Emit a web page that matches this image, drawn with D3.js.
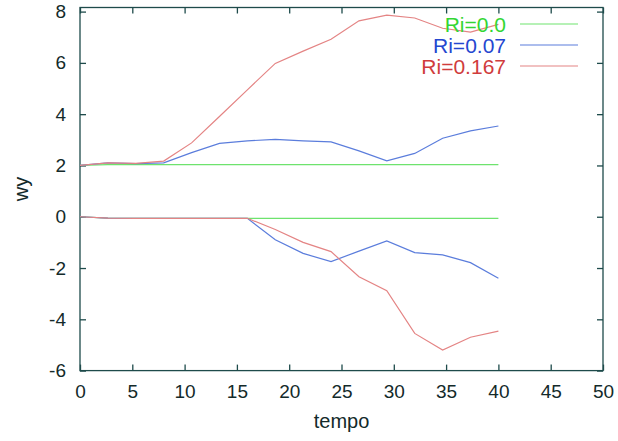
<!DOCTYPE html>
<html lang="en">
  <head>
    <meta charset="UTF-8" />
    <title>wy vs tempo</title>
    <script src="https://d3js.org/d3.v7.min.js"></script>
    <style>
      body {
        margin: 0;
        background: #fff;
        font-family: "Liberation Sans", Arial, sans-serif;
      }
      svg {
        display: block;
      }
    </style>
  </head>
  <body>
    <svg id="chart" width="618" height="441"></svg>
    <script>
      // time steps (tempo)
      const tempo = [0, 2.67, 5.33, 8, 10.67, 13.33, 16, 18.67, 21.33, 24, 26.67, 29.33, 32, 34.67, 37.33, 40];

      // upper branch
      const ri00Up = [2.0, 2.03, 2.03, 2.03, 2.03, 2.03, 2.03, 2.03, 2.03, 2.03, 2.03, 2.03, 2.03, 2.03, 2.03, 2.03];
      const ri007Up = [2.0, 2.1, 2.07, 2.1, 2.5, 2.86, 2.96, 3.02, 2.96, 2.92, 2.57, 2.18, 2.47, 3.06, 3.35, 3.54];
      const ri0167Up = [2.0, 2.1, 2.08, 2.17, 2.88, 3.91, 4.95, 5.98, 6.46, 6.92, 7.64, 7.86, 7.75, 7.35, 7.2, 7.5];

      // lower branch
      const ri00Lo = [0, -0.05, -0.06, -0.06, -0.06, -0.06, -0.06, -0.06, -0.06, -0.06, -0.06, -0.06, -0.06, -0.06, -0.06, -0.06];
      const ri007Lo = [0, -0.05, -0.06, -0.06, -0.06, -0.06, -0.06, -0.9, -1.43, -1.75, -1.34, -0.94, -1.4, -1.49, -1.79, -2.4];
      const ri0167Lo = [0, -0.05, -0.06, -0.06, -0.06, -0.06, -0.06, -0.5, -1.0, -1.36, -2.34, -2.88, -4.55, -5.2, -4.7, -4.46];

      const xTicks = [0, 5, 10, 15, 20, 25, 30, 35, 40, 45, 50];
      const yTicks = [-6, -4, -2, 0, 2, 4, 6, 8];

      const series = [
        { name: "Ri=0.0", color: "#6ee36e", text: "#33d633", up: ri00Up, lo: ri00Lo },
        { name: "Ri=0.07", color: "#5b7ddc", text: "#2547d0", up: ri007Up, lo: ri007Lo },
        { name: "Ri=0.167", color: "#e48484", text: "#d03c3c", up: ri0167Up, lo: ri0167Lo },
      ];

      const svg = d3.select("#chart");
      const plotL = 80, plotR = 603, plotT = 7.5, plotB = 370.6;

      const x = d3.scaleLinear().domain([0, 50]).range([plotL, plotR]);
      const y = d3.scaleLinear().domain([-6, 8.16]).range([plotB, plotT]);

      const axisColor = "#1e4b4b";
      const textColor = "#132a2a";
      const tickLen = 6;

      // frame
      svg.append("rect")
        .attr("x", plotL).attr("y", plotT)
        .attr("width", plotR - plotL).attr("height", plotB - plotT)
        .attr("fill", "none").attr("stroke", axisColor).attr("stroke-width", 1.3);

      // ticks, inward and mirrored; plain hyphen for negatives like gnuplot
      const fmt = (d) => String(d);
      const bottomAxis = d3.axisBottom(x).tickValues(xTicks).tickFormat(fmt).tickSize(-tickLen).tickPadding(14).tickSizeOuter(0);
      const topAxis = d3.axisTop(x).tickValues(xTicks).tickSize(-tickLen).tickFormat("").tickSizeOuter(0);
      const leftAxis = d3.axisLeft(y).tickValues(yTicks).tickFormat(fmt).tickSize(-tickLen).tickPadding(14).tickSizeOuter(0);
      const rightAxis = d3.axisRight(y).tickValues(yTicks).tickSize(-tickLen).tickFormat("").tickSizeOuter(0);

      const axes = [
        [bottomAxis, `translate(0,${plotB})`],
        [topAxis, `translate(0,${plotT})`],
        [leftAxis, `translate(${plotL},0)`],
        [rightAxis, `translate(${plotR},0)`],
      ];
      axes.forEach(([ax, tr]) => {
        const g = svg.append("g").attr("transform", tr).call(ax);
        g.select(".domain").remove();
        g.selectAll(".tick line").attr("stroke", axisColor).attr("stroke-width", 1.3);
        g.selectAll(".tick text")
          .attr("fill", textColor)
          .style("font-size", "19px")
          .style("font-family", "'Liberation Sans', Arial, sans-serif");
      });

      // axis labels
      svg.append("text")
        .attr("x", (plotL + plotR) / 2).attr("y", 428)
        .attr("text-anchor", "middle")
        .attr("fill", textColor)
        .style("font-size", "20px")
        .text("tempo");

      svg.append("text")
        .attr("transform", `translate(28,${(plotT + plotB) / 2}) rotate(-90)`)
        .attr("text-anchor", "middle")
        .attr("fill", textColor)
        .style("font-size", "20px")
        .text("wy");

      const line = d3.line()
        .x((d, i) => x(tempo[i]))
        .y((d) => y(d));

      series.forEach((s) => {
        [s.up, s.lo].forEach((vals) => {
          svg.append("path")
            .datum(vals)
            .attr("fill", "none")
            .attr("stroke", s.color)
            .attr("stroke-width", 1.2)
            .attr("d", line);
        });
      });

      // legend
      const legend = svg.append("g");
      series.forEach((s, i) => {
        const ly = 24 + i * 21;
        legend.append("text")
          .attr("x", 506).attr("y", ly)
          .attr("dy", "0.36em")
          .attr("text-anchor", "end")
          .attr("fill", s.text)
          .style("font-size", "21px")
          .text(s.name);
        legend.append("line")
          .attr("x1", 520).attr("x2", 578)
          .attr("y1", ly).attr("y2", ly)
          .attr("stroke", s.color)
          .attr("stroke-width", 1.2);
      });
    </script>
  </body>
</html>
